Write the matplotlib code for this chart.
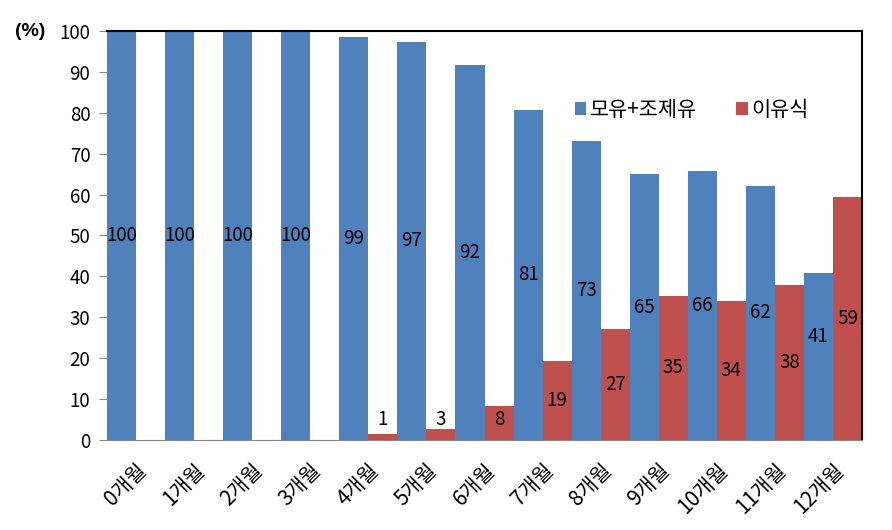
import numpy as np
import matplotlib
matplotlib.use('Agg')
import matplotlib.pyplot as plt

plt.rcParams['font.family'] = ['Noto Sans CJK KR', 'DejaVu Sans']

# data
months = ['0개월', '1개월', '2개월', '3개월', '4개월', '5개월', '6개월',
          '7개월', '8개월', '9개월', '10개월', '11개월', '12개월']
milk = [100, 100, 100, 100, 98.6, 97.3, 91.7, 80.8, 73.0, 65.0, 65.8, 62.2, 40.7]
milk_labels = [100, 100, 100, 100, 99, 97, 92, 81, 73, 65, 66, 62, 41]
weaning = [0, 0, 0, 0, 1.4, 2.7, 8.3, 19.2, 27.0, 35.2, 33.9, 37.8, 59.3]
weaning_labels = [0, 0, 0, 0, 1, 3, 8, 19, 27, 35, 34, 38, 59]

blue = '#4F81BD'
red = '#C0504D'

fig = plt.figure(figsize=(8.92, 5.30), dpi=100)
ax = fig.add_axes([0.12, 0.17, 0.8464, 0.7715])

x = np.arange(len(months))
w = 0.5
ax.bar(x - w / 2, milk, w, color=blue, label='모유+조제유')
ax.bar(x + w / 2, weaning, w, color=red, label='이유식')

# value labels, mostly centred in the bar
for i in range(len(months)):
    yb = milk[i] / 2
    if milk_labels[i] == 41:
        yb = 25.3
    ax.text(x[i] - w / 2, yb, str(milk_labels[i]), ha='center', va='center', fontsize=13.5)
    if weaning_labels[i] > 0:
        yr = max(weaning[i] / 2, 5)
        ax.text(x[i] + w / 2, yr, str(weaning_labels[i]), ha='center', va='center', fontsize=13.5)

ax.set_xlim(-0.5, len(months) - 0.5)
ax.set_ylim(0, 100)
ax.set_yticks(np.arange(0, 101, 10))
ax.tick_params(axis='y', labelsize=13.5, color='#868686', length=6, pad=6)
ax.set_xticks(x)
ax.set_xticklabels(months, rotation=45, ha='right', rotation_mode='anchor', fontsize=15)
ax.tick_params(axis='x', length=0, pad=14)

ax.spines['left'].set_visible(False)
ax.spines['bottom'].set_color('#868686')
ax.spines['top'].set_color('black')
ax.spines['right'].set_color('black')
ax.spines['top'].set_linewidth(1.5)
ax.spines['right'].set_linewidth(1.5)

ax.text(-0.082, 1.0, '(%)', transform=ax.transAxes, ha='right', va='center',
        fontsize=14, fontweight='bold', family='Liberation Sans')

ax.legend(loc='center left', bbox_to_anchor=(0.595, 0.807), ncol=2, frameon=False,
          fontsize=15, handlelength=0.55, handleheight=0.55, handletextpad=0.15,
          columnspacing=1.9)

plt.savefig('out.png', dpi=100)
